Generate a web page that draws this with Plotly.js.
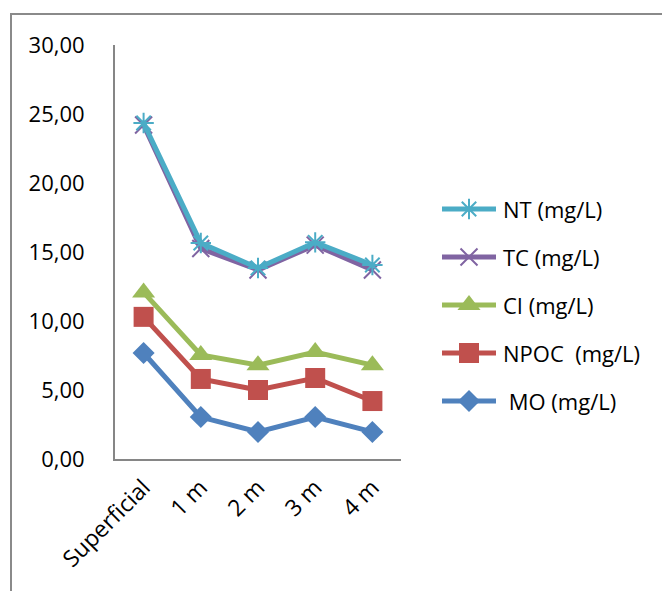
<!DOCTYPE html>
<html>
<head>
<meta charset="utf-8">
<script src="https://cdn.plot.ly/plotly-3.0.1.min.js"></script>
<style>
  html, body { margin: 0; padding: 0; background: #ffffff; }
  #chart { width: 662px; height: 591px; }
</style>
</head>
<body>
<div id="chart"></div>
<script>
// Sampling depths
const categories = ['Superficial', '1 m', '2 m', '3 m', '4 m'];

// Concentrations (mg/L) per depth
const ntValues   = [24.35, 15.65, 13.84, 15.70, 14.06];
const tcValues   = [24.20, 15.25, 13.70, 15.50, 13.70];
const ciValues   = [12.07, 7.54, 6.80, 7.75, 6.80];
const npocValues = [10.30, 5.80, 5.00, 5.87, 4.20];
const moValues   = [7.68, 3.04, 1.96, 3.04, 1.96];

// Legend labels, top to bottom
const seriesNames = ['NT (mg/L)', 'TC (mg/L)', 'CI (mg/L)', 'NPOC\u00a0\u00a0(mg/L)', '\u00a0MO (mg/L)'];

const W = 662, H = 591;
const FONT = 'Open Sans, Noto Sans, sans-serif';
const AXIS_GREY = '#868686';

// Series styles, same order as seriesNames
const styles = [
  { color: '#4BACC6', symbol: 'asterisk-open', size: 17, open: true },
  { color: '#8064A2', symbol: 'x-thin-open',   size: 17, open: true },
  { color: '#9BBB59', symbol: 'triangle-up',   size: 20, open: false },
  { color: '#C0504D', symbol: 'square',        size: 20, open: false },
  { color: '#4F81BD', symbol: 'diamond',       size: 17, open: false }
];
const seriesValues = [ntValues, tcValues, ciValues, npocValues, moValues];

function markerFor(st) {
  return {
    symbol: st.symbol,
    size: st.size,
    color: st.color,
    opacity: 1,
    line: { color: st.color, width: st.open ? 2 : 0 }
  };
}

const traces = [];
// Draw from bottom series up so NT sits on top
for (let i = seriesValues.length - 1; i >= 0; i--) {
  const st = styles[i];
  traces.push({
    type: 'scatter',
    mode: 'lines+markers',
    x: categories,
    y: seriesValues[i],
    name: seriesNames[i],
    line: { color: st.color, width: 5 },
    marker: markerFor(st),
    cliponaxis: false,
    xaxis: 'x', yaxis: 'y',
    hoverinfo: 'x+y+name'
  });
}

// Hand-laid legend on a pixel-space overlay
const legendY = [209, 257, 305, 353, 401];
const legendX0 = 442, legendX1 = 496, legendTextX = 501;
const annotations = [];
for (let i = 0; i < seriesNames.length; i++) {
  const st = styles[i];
  const mid = (legendX0 + legendX1) / 2;
  traces.push({
    type: 'scatter',
    mode: 'lines',
    x: [legendX0, legendX1],
    y: [legendY[i], legendY[i]],
    line: { color: st.color, width: 5 },
    xaxis: 'x2', yaxis: 'y2',
    cliponaxis: false,
    showlegend: false,
    hoverinfo: 'skip'
  });
  traces.push({
    type: 'scatter',
    mode: 'markers',
    x: [mid],
    y: [legendY[i]],
    marker: markerFor(st),
    xaxis: 'x2', yaxis: 'y2',
    cliponaxis: false,
    showlegend: false,
    hoverinfo: 'skip'
  });
  annotations.push({
    xref: 'x2', yref: 'y2',
    x: legendTextX, y: legendY[i],
    xanchor: 'left', yanchor: 'middle',
    text: seriesNames[i],
    showarrow: false,
    font: { family: FONT, size: 22, color: '#000000' }
  });
}

const layout = {
  width: W, height: H,
  margin: { l: 0, r: 0, t: 0, b: 0, pad: 0 },
  paper_bgcolor: '#ffffff',
  plot_bgcolor: 'rgba(0,0,0,0)',
  separators: ',.',
  showlegend: false,
  font: { family: FONT, size: 22, color: '#000000' },
  xaxis: {
    type: 'category',
    categoryorder: 'array',
    categoryarray: categories,
    domain: [115 / W, 401 / W],
    range: [-0.5, 4.5],
    showline: true, linecolor: AXIS_GREY, linewidth: 2,
    showgrid: false, zeroline: false,
    ticks: '', tickangle: -45,
    ticklabelstandoff: 4,
    tickfont: { family: FONT, size: 23, color: '#000000' },
    anchor: 'y'
  },
  yaxis: {
    domain: [(H - 459) / H, (H - 45) / H],
    range: [0, 30],
    dtick: 5, tick0: 0,
    tickformat: '.2f',
    showline: true, linecolor: AXIS_GREY, linewidth: 2,
    showgrid: false, zeroline: false,
    ticks: '',
    ticklabelstandoff: 24,
    tickfont: { family: FONT, size: 22, color: '#000000' },
    anchor: 'x'
  },
  xaxis2: {
    domain: [0, 1], range: [0, W], visible: false,
    anchor: 'y2', fixedrange: true
  },
  yaxis2: {
    domain: [0, 1], range: [H, 0], visible: false,
    anchor: 'x2', fixedrange: true
  },
  shapes: [{
    type: 'rect', xref: 'x2', yref: 'y2',
    x0: 11, x1: W + 20, y0: 14, y1: H + 20,
    line: { color: '#8a8a8a', width: 2 },
    fillcolor: 'rgba(0,0,0,0)',
    layer: 'below'
  }],
  annotations: annotations
};

Plotly.newPlot('chart', traces, layout, { displayModeBar: false, staticPlot: true });
</script>
</body>
</html>
